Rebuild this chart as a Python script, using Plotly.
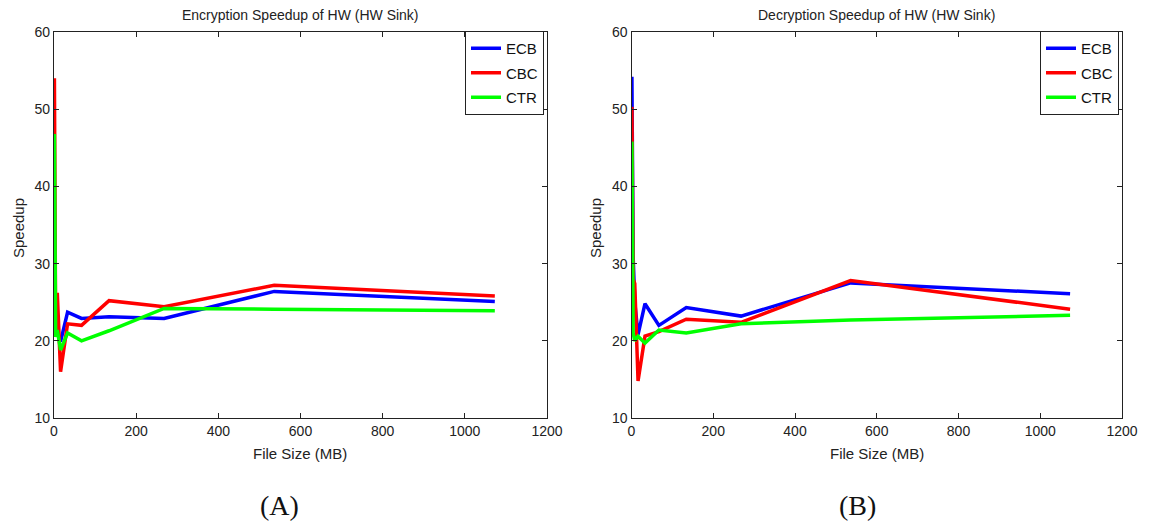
import plotly.graph_objects as go

# File sizes (MB)
file_size = [1, 2, 4, 8, 16, 33, 67, 134, 268, 536, 1073]

# Encryption speedup (A)
enc_ecb = [34.0, 27.0, 22.0, 21.0, 19.9, 23.7, 22.9, 23.1, 22.9, 26.4, 25.1]
enc_cbc = [54.0, 35.0, 21.0, 26.2, 16.0, 22.2, 22.0, 25.2, 24.4, 27.2, 25.8]
enc_ctr = [46.8, 30.0, 20.5, 21.4, 18.8, 21.0, 20.0, 21.3, 24.2, 24.1, 23.9]

# Decryption speedup (B)
dec_ecb = [54.2, 38.0, 31.0, 25.0, 20.8, 24.8, 22.0, 24.3, 23.2, 27.5, 26.1]
dec_cbc = [50.3, 35.0, 28.0, 27.4, 14.8, 20.6, 21.2, 22.8, 22.4, 27.8, 24.1]
dec_ctr = [45.8, 30.0, 21.0, 20.0, 20.6, 19.7, 21.4, 21.0, 22.2, 22.7, 23.3]

series_names = ["ECB", "CBC", "CTR"]
colors = ["#0000FF", "#FF0000", "#00FF00"]

x_ticks = [0, 200, 400, 600, 800, 1000, 1200]
y_ticks = [10, 20, 30, 40, 50, 60]

FONT = "Arial, Liberation Sans, sans-serif"

fig = go.Figure()

for ys, name, col in zip([enc_ecb, enc_cbc, enc_ctr], series_names, colors):
    fig.add_trace(go.Scatter(x=file_size, y=ys, mode="lines", name=name,
                             line=dict(color=col, width=3.5), legendgroup="a" + name,
                             xaxis="x", yaxis="y", legend="legend"))
for ys, name, col in zip([dec_ecb, dec_cbc, dec_ctr], series_names, colors):
    fig.add_trace(go.Scatter(x=file_size, y=ys, mode="lines", name=name,
                             line=dict(color=col, width=3.5), legendgroup="b" + name,
                             xaxis="x2", yaxis="y2", legend="legend2"))

W, H = 1151, 529
top_px, bot_px = 32, 418
ydom = [1 - bot_px / H, 1 - top_px / H]
xdom1 = [54 / W, 547 / W]
xdom2 = [631.5 / W, 1122 / W]

axis_common = dict(
    showline=True, linecolor="#222", linewidth=1.3, mirror="ticks",
    ticks="inside", ticklen=5, tickcolor="#222", tickwidth=1,
    showgrid=False, zeroline=False, automargin=False,
    tickfont=dict(family=FONT, size=14, color="#222"),
)

legend_common = dict(
    yanchor="top", xanchor="right", bgcolor="white", bordercolor="#222", borderwidth=1,
    font=dict(family=FONT, size=15, color="#111"), tracegroupgap=2, itemwidth=30,
)

fig.update_layout(
    width=W, height=H,
    margin=dict(l=0, r=0, t=0, b=0, pad=0, autoexpand=False),
    paper_bgcolor="white", plot_bgcolor="white",
    font=dict(family=FONT, color="#222"),
    xaxis=dict(domain=xdom1, range=[0, 1200], tickvals=x_ticks, anchor="y", **axis_common),
    yaxis=dict(domain=ydom, range=[10, 60], tickvals=y_ticks, anchor="x", **axis_common),
    xaxis2=dict(domain=xdom2, range=[0, 1200], tickvals=x_ticks, anchor="y2", **axis_common),
    yaxis2=dict(domain=ydom, range=[10, 60], tickvals=y_ticks, anchor="x2", **axis_common),
    legend=dict(x=544 / W, y=1 - 31 / H, **legend_common),
    legend2=dict(x=1119 / W, y=1 - 31 / H, **legend_common),
    showlegend=True,
)

annotations = [
    dict(text="Encryption Speedup of HW (HW Sink)", x=(54 + 547) / 2 / W, y=1 - 15 / H,
         xref="paper", yref="paper", showarrow=False, xanchor="center", yanchor="middle",
         font=dict(family=FONT, size=14, color="#222")),
    dict(text="Decryption Speedup of HW (HW Sink)", x=(631.5 + 1122) / 2 / W, y=1 - 15 / H,
         xref="paper", yref="paper", showarrow=False, xanchor="center", yanchor="middle",
         font=dict(family=FONT, size=14, color="#222")),
    dict(text="File Size (MB)", x=(54 + 547) / 2 / W, y=1 - 453 / H,
         xref="paper", yref="paper", showarrow=False, xanchor="center", yanchor="middle",
         font=dict(family=FONT, size=15, color="#222")),
    dict(text="File Size (MB)", x=(631.5 + 1122) / 2 / W, y=1 - 453 / H,
         xref="paper", yref="paper", showarrow=False, xanchor="center", yanchor="middle",
         font=dict(family=FONT, size=15, color="#222")),
    dict(text="Speedup", x=18 / W, y=1 - 228 / H, textangle=-90,
         xref="paper", yref="paper", showarrow=False, xanchor="center", yanchor="middle",
         font=dict(family=FONT, size=15, color="#222")),
    dict(text="Speedup", x=595 / W, y=1 - 228 / H, textangle=-90,
         xref="paper", yref="paper", showarrow=False, xanchor="center", yanchor="middle",
         font=dict(family=FONT, size=15, color="#222")),
    dict(text="(A)", x=279 / W, y=1 - 505 / H,
         xref="paper", yref="paper", showarrow=False, xanchor="center", yanchor="middle",
         font=dict(family="Liberation Serif, Times New Roman, serif", size=28, color="#111")),
    dict(text="(B)", x=857 / W, y=1 - 505 / H,
         xref="paper", yref="paper", showarrow=False, xanchor="center", yanchor="middle",
         font=dict(family="Liberation Serif, Times New Roman, serif", size=28, color="#111")),
]
fig.update_layout(annotations=annotations)

fig.write_html("out.html")
